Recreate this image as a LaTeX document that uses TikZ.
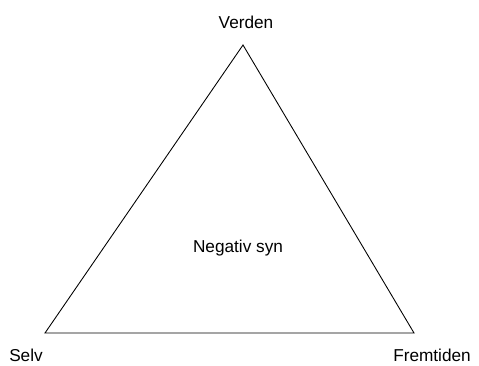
\documentclass[tikz,border=0pt]{standalone}
\usepackage{fontspec}
\setmainfont{Liberation Sans}
\usetikzlibrary{calc}

\begin{document}
\begin{tikzpicture}[x=0.2mm,y=0.2mm]
\tikzset{lbl/.style={font=\fontsize{9.8}{12}\selectfont,inner sep=0pt}}
\useasboundingbox (0,0) rectangle (479,365);
\coordinate (top) at (243,320); \coordinate (selv) at (45,32); \coordinate (frem) at (414,32);
\draw[line width=0.5pt,line join=miter] (top)--(selv)--(frem)--cycle;
\node[lbl] (verden) at (246,343) {Verden};
\node[lbl] (selvl) at (26,10) {Selv};
\node[lbl] (freml) at (432,10) {Fremtiden};
\node[lbl] (syn) at (238,117) {Negativ syn};
\end{tikzpicture}
\end{document}
